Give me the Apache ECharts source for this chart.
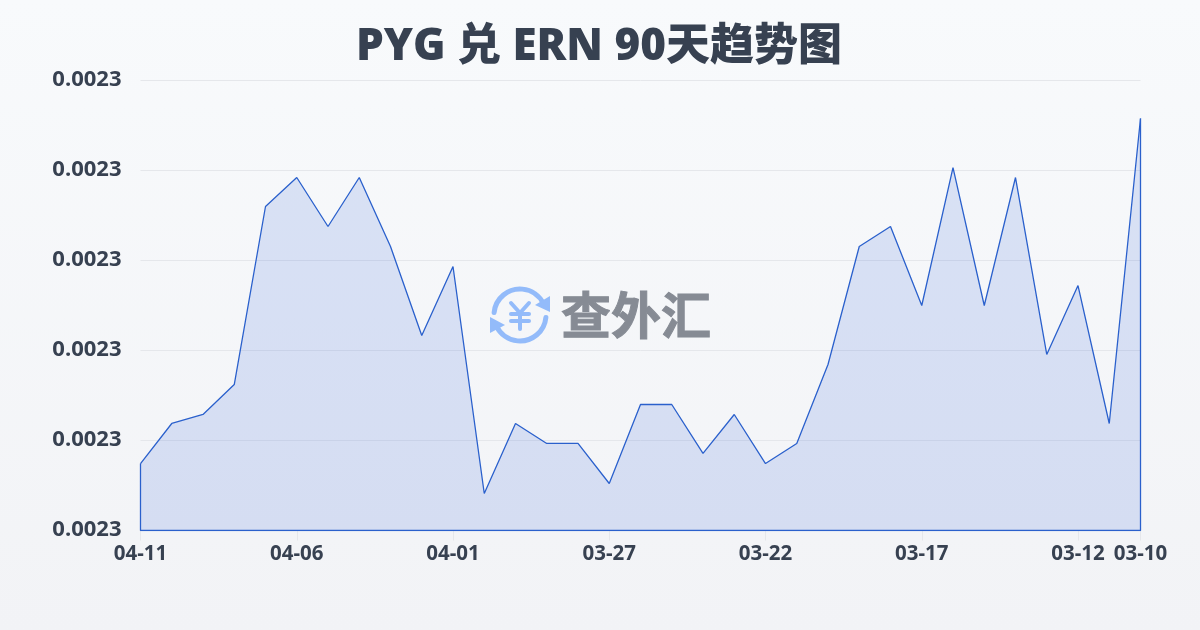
<!DOCTYPE html>
<html>
<head>
<meta charset="utf-8">
<style>
html,body{margin:0;padding:0;width:1200px;height:630px;overflow:hidden;background:linear-gradient(180deg,#f8fafc 0%,#f2f3f6 100%);}
#c{width:1200px;height:630px;}
</style>
<script src="https://cdn.jsdelivr.net/npm/echarts@6/dist/echarts.min.js"></script>
</head>
<body>
<div id="c"></div>
<script>
var titleText = 'PYG 兑 ERN 90天趋势图';
var watermarkText = '查外汇';
var dates = ['04-11','04-10','04-09','04-08','04-07','04-06','04-05','04-04','04-03','04-02','04-01',
  '03-31','03-30','03-29','03-28','03-27','03-26','03-25','03-24','03-23','03-22','03-21',
  '03-20','03-19','03-18','03-17','03-16','03-15','03-14','03-13','03-12','03-11','03-10'];
var rates = [0.00227744,0.00228189,0.00228289,0.00228622,0.00230600,0.00230922,0.00230378,0.00230922,
  0.00230156,0.00229167,0.00229933,0.00227411,0.00228189,0.00227967,0.00227967,0.00227522,
  0.00228400,0.00228400,0.00227856,0.00228289,0.00227744,0.00227967,0.00228844,0.00230156,
  0.00230378,0.00229500,0.00231033,0.00229500,0.00230922,0.00228956,0.00229722,0.00228189,0.00231578];
var axisMin = 0.00227, axisMax = 0.00232, axisStep = 0.00001;
var labelIdx = [0,5,10,15,20,25,30,32];

var textColor = '#374151', font = '"Open Sans","Noto Sans","Noto Sans CJK SC",sans-serif';
var blue = '#2a60cc', ring = '#93bbfa';
var lastIdx = rates.length - 1;
var showIdx = function(i){ return labelIdx.indexOf(i) >= 0; };
var chart = echarts.init(document.getElementById('c'), null, {renderer:'canvas'});
var cx = 520, cy = 315;
chart.setOption({
  animation:false,
  backgroundColor:'transparent',
  title:{text:titleText,left:351,top:20,textStyle:{fontFamily:font,fontSize:44,fontWeight:800,color:textColor}},
  grid:{left:140.5,width:1000,top:80.5,height:450,containLabel:false},
  xAxis:{type:'category',boundaryGap:false,data:dates,
    axisLine:{show:false},
    axisTick:{show:true,length:10,interval:function(i){return showIdx(i);},lineStyle:{color:'#e5e7eb',width:1}},
    axisLabel:{interval:function(i){return showIdx(i);},hideOverlap:false,margin:13,fontFamily:font,fontSize:20.5,fontWeight:'bold',color:textColor},
    splitLine:{show:false}},
  yAxis:{type:'value',min:axisMin,max:axisMax,interval:axisStep,
    axisLine:{show:false},axisTick:{show:false},
    axisLabel:{margin:19,verticalAlign:'bottom',lineHeight:2,fontFamily:font,fontSize:22,fontWeight:'bold',color:textColor,formatter:function(v){return v.toFixed(4);}},
    splitLine:{show:true,lineStyle:{color:'#e5e7eb',width:1}}},
  series:[
    {type:'line',data:rates,symbol:'none',smooth:false,silent:true,
     lineStyle:{color:blue,width:1.3},areaStyle:{color:'rgba(38,92,215,0.145)',opacity:1,origin:'start'},z:3},
    {type:'line',data:[[0,rates[0]],[0,axisMin],[lastIdx,axisMin],[lastIdx,rates[lastIdx]]],symbol:'none',silent:true,
     lineStyle:{color:blue,width:1.3},z:4}
  ],
  graphic:[
    {type:'group',silent:true,z:10,children:[
      {type:'arc',shape:{cx:cx,cy:cy,r:26,startAngle:Math.PI*1.03,endAngle:Math.PI*1.86,clockwise:true},style:{fill:null,stroke:ring,lineWidth:5,lineCap:'round'}},
      {type:'arc',shape:{cx:cx,cy:cy,r:26,startAngle:Math.PI*0.03,endAngle:Math.PI*0.86,clockwise:true},style:{fill:null,stroke:ring,lineWidth:5,lineCap:'round'}},
      {type:'polygon',shape:{points:[[550,296],[550,312],[535,305]]},style:{fill:ring}},
      {type:'polygon',shape:{points:[[490,317],[490,333],[505,325]]},style:{fill:ring}},
      {type:'polyline',shape:{points:[[511,303],[520,313],[529,303]]},style:{fill:null,stroke:ring,lineWidth:4,lineCap:'round',lineJoin:'round'}},
      {type:'line',shape:{x1:520,y1:313,x2:520,y2:329},style:{stroke:ring,lineWidth:4,lineCap:'round'}},
      {type:'line',shape:{x1:511,y1:314,x2:529,y2:314},style:{stroke:ring,lineWidth:4,lineCap:'round'}},
      {type:'line',shape:{x1:511,y1:321,x2:529,y2:321},style:{stroke:ring,lineWidth:4,lineCap:'round'}},
      {type:'text',x:636,y:315,style:{text:watermarkText,fill:'#868b94',stroke:'#868b94',lineWidth:1,font:'bold 50px "Noto Sans CJK SC",sans-serif',textAlign:'center',textVerticalAlign:'middle'}}
    ]}
  ]
});
</script>
</body>
</html>
